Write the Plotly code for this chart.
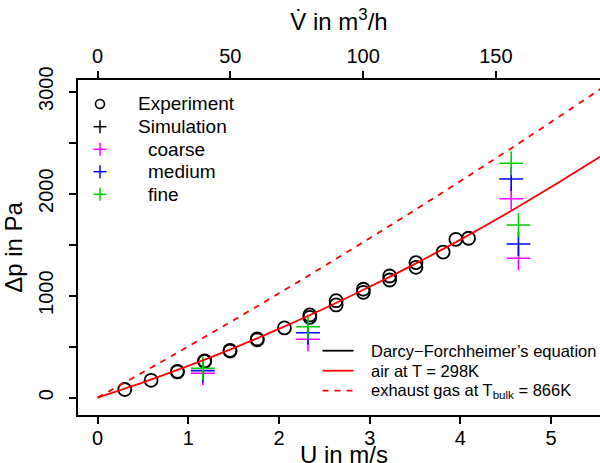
import plotly.graph_objects as go

# ---- data -------------------------------------------------------------
# measured pressure drop over the porous sample
u_exp = [0.30, 0.59, 0.88, 0.88, 1.18, 1.18, 1.46, 1.46, 1.76, 1.76, 2.06,
         2.34, 2.34, 2.63, 2.63, 2.93, 2.93, 3.22, 3.22, 3.51, 3.51, 3.81,
         3.95, 4.09]
dp_exp = [80, 170, 252, 258, 355, 361, 457, 464, 568, 576, 684,
          788, 811, 909, 951, 1033, 1063, 1154, 1193, 1278, 1324, 1428,
          1553, 1563]

# CFD results for three mesh resolutions
u_sim = [1.16, 2.32, 4.56, 4.64]
dp_coarse = [239, 573, 1951, 1367]
dp_medium = [265, 637, 2144, 1507]
dp_fine = [288, 696, 2298, 1693]

# Darcy-Forchheimer curves
u_curve = [0, 0.5, 1, 1.5, 2, 2.5, 3, 3.5, 4, 4.5, 5, 5.5, 5.6]
dp_air = [0, 149, 311, 486, 674, 874, 1087, 1312, 1550, 1801, 2065, 2341, 2397]
dp_exhaust = [0, 249, 502, 760, 1023, 1291, 1564, 1841, 2124, 2411, 2703, 3000, 3060]

# conversion velocity -> volume flow (m^3/h per m/s)
flow_per_velocity = 34.16

x_ticks = [0, 1, 2, 3, 4, 5]
v_ticks = [0, 50, 100, 150]
y_ticks = [0, 1000, 2000, 3000]
y_minor_ticks = [500, 1500, 2500]

# ---- styling ----------------------------------------------------------
FONT = "Liberation Sans, Arial, Helvetica, sans-serif"
W, H = 600, 463
ML, MR, MT, MB = 78, 0, 80, 48
x_range = [-0.216, 5.539]
y_range = [-170, 3115]

C_COARSE = "#FF00FF"
C_MEDIUM = "#0000FF"
C_FINE = "#00CD00"
C_RED = "#FF0000"

PW, PH = W - ML - MR, H - MT - MB


def fx(px):
    return (px - ML) / PW


def fy(py):
    return (H - MB - py) / PH


fig = go.Figure()

fig.add_trace(go.Scatter(
    x=u_exp, y=dp_exp, mode="markers", showlegend=False,
    marker=dict(symbol="circle-open", size=13, color="black",
                line=dict(width=1.8, color="black"))))

for vals, col in [(dp_coarse, C_COARSE), (dp_medium, C_MEDIUM), (dp_fine, C_FINE)]:
    fig.add_trace(go.Scatter(
        x=u_sim, y=vals, mode="markers", showlegend=False,
        marker=dict(symbol="cross-thin-open", size=17, color=col,
                    line=dict(width=1.6, color=col))))

fig.add_trace(go.Scatter(
    x=u_curve, y=dp_air, mode="lines", line_shape="spline", showlegend=False,
    line=dict(color=C_RED, width=1.8)))
fig.add_trace(go.Scatter(
    x=u_curve, y=dp_exhaust, mode="lines", line_shape="spline", showlegend=False,
    line=dict(color=C_RED, width=1.8, dash="6px,6px")))

# carrier for the volume-flow axis on top
fig.add_trace(go.Scatter(x=[], y=[], xaxis="x2", yaxis="y", showlegend=False))

axis_common = dict(
    showgrid=False, zeroline=False, showline=True, linecolor="black",
    linewidth=2, ticks="outside", ticklen=7, tickwidth=1.5, tickcolor="black",
    automargin=False,
    tickfont=dict(family=FONT, size=20, color="black"),
)

fig.update_layout(
    width=W, height=H,
    margin=dict(l=ML, r=MR, t=MT, b=MB, pad=0),
    paper_bgcolor="white", plot_bgcolor="white",
    font=dict(family=FONT, color="black"),
    xaxis=dict(range=x_range, tickmode="array", tickvals=x_ticks,
               ticklabelstandoff=-3,
               **axis_common),
    xaxis2=dict(range=[x_range[0] * flow_per_velocity, x_range[1] * flow_per_velocity],
                overlaying="x", side="top", anchor="y",
                tickmode="array", tickvals=v_ticks,
                title=dict(text="V\u0307 in m<sup>3</sup>/h",
                           font=dict(family=FONT, size=24), standoff=8),
                **axis_common),
    yaxis=dict(range=y_range, tickmode="array", tickvals=y_ticks,
               tickangle=-90, ticklabelstandoff=8,
               minor=dict(tickmode="array", tickvals=y_minor_ticks,
                          ticks="outside", ticklen=7, tickwidth=1.5,
                          tickcolor="black", showgrid=False),
               title=dict(text="\u0394p in Pa", font=dict(family=FONT, size=24),
                          standoff=6),
               **axis_common),
)

# ---- legends drawn as keys + text -------------------------------------
shapes = []
annotations = []

# bottom axis title, set just below the tick labels
annotations.append(dict(text="U in m/s", xref="paper", yref="paper",
                        x=fx(344), y=fy(454), xanchor="center", yanchor="middle",
                        showarrow=False,
                        font=dict(family=FONT, size=24, color="black")))

rows1 = [104, 126.7, 149.3, 171.7, 194.3]
key_x = 100
shapes.append(dict(type="circle", xref="paper", yref="paper",
                   x0=fx(key_x - 4.5), x1=fx(key_x + 4.5),
                   y0=fy(rows1[0] + 4.5), y1=fy(rows1[0] - 4.5),
                   line=dict(color="black", width=1.6)))
for row, col in zip(rows1[1:], ["black", C_COARSE, C_MEDIUM, C_FINE]):
    shapes.append(dict(type="line", xref="paper", yref="paper",
                       x0=fx(key_x - 6.5), x1=fx(key_x + 6.5),
                       y0=fy(row), y1=fy(row), line=dict(color=col, width=1.5)))
    shapes.append(dict(type="line", xref="paper", yref="paper",
                       x0=fx(key_x), x1=fx(key_x),
                       y0=fy(row - 6.5), y1=fy(row + 6.5),
                       line=dict(color=col, width=1.5)))

labels1 = [("Experiment", 135.5), ("Simulation", 135.5), ("coarse", 146),
           ("medium", 146), ("fine", 146)]
for (txt, tx), row in zip(labels1, rows1):
    annotations.append(dict(text=txt, xref="paper", yref="paper",
                            x=fx(tx), y=fy(row), xanchor="left", yanchor="middle",
                            showarrow=False,
                            font=dict(family=FONT, size=19, color="black")))

rows2 = [350.7, 370.7, 390.7]
line_keys = [("black", "solid"), (C_RED, "solid"), (C_RED, "6px,6px")]
labels2 = ["Darcy\u2212Forchheimer\u2019s equation",
           "air at T = 298K",
           "exhaust gas at T<sub>bulk</sub> = 866K"]
for row, (col, dash), txt in zip(rows2, line_keys, labels2):
    shapes.append(dict(type="line", xref="paper", yref="paper",
                       x0=fx(322.5), x1=fx(353.5), y0=fy(row), y1=fy(row),
                       line=dict(color=col, width=1.8, dash=dash)))
    annotations.append(dict(text=txt, xref="paper", yref="paper",
                            x=fx(369), y=fy(row), xanchor="left", yanchor="middle",
                            showarrow=False,
                            font=dict(family=FONT, size=16.5, color="black")))

fig.update_layout(shapes=shapes, annotations=annotations)

fig.write_html("out.html")
